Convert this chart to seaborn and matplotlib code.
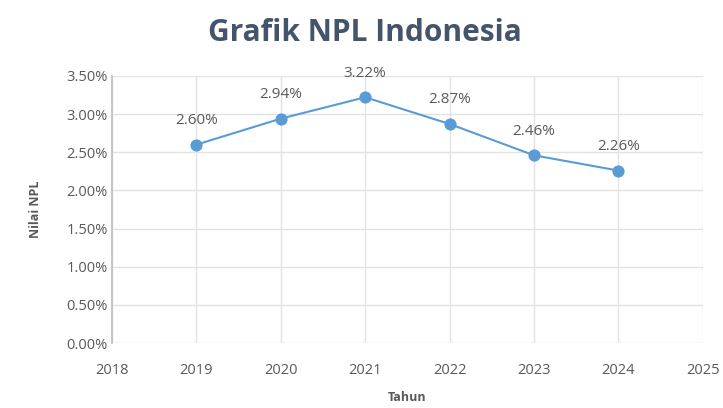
import pandas as pd
import seaborn as sns
import matplotlib.pyplot as plt
import matplotlib.ticker as ticker

# Data NPL
tahun = [2019, 2020, 2021, 2022, 2023, 2024]
npl = [0.0260, 0.0294, 0.0322, 0.0287, 0.0246, 0.0226]

df = pd.DataFrame({'Tahun': tahun, 'NPL': npl})

BIRU = '#5B9BD5'
GRAA = '#595959'

sns.set_theme(style='white')
plt.rcParams['font.family'] = ['Open Sans', 'DejaVu Sans']

fig = plt.figure(figsize=(7.23, 4.08), dpi=100)
ax = fig.add_axes([0.155, 0.159, 0.817, 0.655])

sns.lineplot(data=df, x='Tahun', y='NPL', ax=ax, color=BIRU,
             linewidth=1.5, marker='o', markersize=8,
             markeredgecolor=BIRU, markerfacecolor=BIRU)

for x, y in zip(tahun, npl):
    ax.annotate(f'{y*100:.2f}%', (x, y), xytext=(0, 12),
                textcoords='offset points', ha='center', va='bottom',
                fontsize=11, color=GRAA)

ax.set_xlim(2018, 2025)
ax.set_ylim(0, 0.035)
ax.set_xticks(range(2018, 2026))
ax.set_yticks([i * 0.005 for i in range(8)])
ax.yaxis.set_major_formatter(ticker.FuncFormatter(lambda v, p: f'{v*100:.2f}%'))

ax.grid(True, color='#E3E3E3', linewidth=1)
for side in ['top', 'right', 'bottom']:
    ax.spines[side].set_visible(False)
ax.spines['left'].set_color('#BFBFBF')
ax.tick_params(axis='both', labelsize=10.5, colors=GRAA, length=0)
ax.tick_params(axis='x', pad=14)
ax.tick_params(axis='y', pad=3)

ax.set_xlabel('Tahun', fontsize=9, fontweight='bold', color=GRAA, labelpad=10)
ax.set_ylabel('Nilai NPL', fontsize=9, fontweight='bold', color=GRAA, labelpad=18)

fig.suptitle('Grafik NPL Indonesia', x=0.505, y=0.955, fontsize=21.5,
             fontweight='bold', color='#44546A')

fig.savefig('out.png', dpi=100)
